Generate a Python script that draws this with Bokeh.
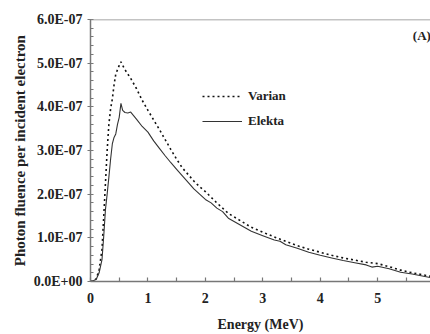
from bokeh.plotting import figure
from bokeh.models import (FixedTicker, Span, Label, Legend, LegendItem, Range1d)
from bokeh.embed import file_html
from bokeh.resources import INLINE

# Energy grid (MeV)
energy_varian = [0, 0.05, 0.1, 0.15, 0.2, 0.23, 0.26, 0.29, 0.32, 0.35, 0.38, 0.41, 0.44, 0.47, 0.5, 0.53,
                 0.56, 0.6, 0.65, 0.7, 0.8, 0.9, 1.0, 1.1, 1.2, 1.3, 1.4, 1.5, 1.6, 1.7, 1.8, 1.9,
                 2.0, 2.2, 2.4, 2.6, 2.8, 3.0, 3.2, 3.4, 3.6, 3.8, 4.0, 4.2, 4.4, 4.6, 4.8, 5.0,
                 5.2, 5.4, 5.6, 5.8, 6.0]
# Photon fluence per incident electron, in units of 1e-7
varian = [0, 0.02, 0.06, 0.27, 0.73, 1.48, 2.24, 3.0, 3.6, 3.95, 4.18, 4.5, 4.75, 4.85, 4.95, 5.03,
          4.95, 4.85, 4.75, 4.65, 4.42, 4.15, 3.92, 3.7, 3.48, 3.25, 3.02, 2.8, 2.6, 2.45, 2.3, 2.17,
          2.06, 1.8, 1.56, 1.4, 1.24, 1.13, 1.02, 0.92, 0.82, 0.74, 0.67, 0.6, 0.54, 0.49, 0.44, 0.41,
          0.34, 0.26, 0.2, 0.15, 0.1]

energy_elekta = [0, 0.05, 0.1, 0.15, 0.2, 0.23, 0.26, 0.29, 0.32, 0.35, 0.38, 0.41, 0.44, 0.47, 0.5,
                 0.53, 0.56, 0.6, 0.65, 0.7, 0.75, 0.8, 0.9, 1.0, 1.1, 1.2, 1.3, 1.4, 1.5, 1.6, 1.7,
                 1.8, 1.9, 2.0, 2.1, 2.2, 2.3, 2.4, 2.6, 2.8, 3.0, 3.2, 3.3, 3.4, 3.6, 3.8, 4.0, 4.2,
                 4.4, 4.6, 4.8, 4.9, 5.0, 5.2, 5.4, 5.6, 5.8, 6.0]
elekta = [0, 0.02, 0.05, 0.2, 0.5, 1.03, 1.64, 2.0, 2.39, 2.8, 3.15, 3.3, 3.38, 3.6, 3.76,
          4.08, 3.92, 3.87, 3.86, 3.88, 3.8, 3.72, 3.55, 3.42, 3.22, 3.05, 2.88, 2.72, 2.57, 2.42, 2.27,
          2.12, 2.0, 1.88, 1.8, 1.68, 1.6, 1.45, 1.3, 1.15, 1.05, 0.95, 0.92, 0.84, 0.76, 0.67, 0.6, 0.54,
          0.48, 0.43, 0.38, 0.33, 0.35, 0.29, 0.21, 0.17, 0.12, 0.07]

y_ticks = [0, 1, 2, 3, 4, 5, 6]
y_tick_labels = ["0.0E+00", "1.0E-07", "2.0E-07", "3.0E-07", "4.0E-07", "5.0E-07", "6.0E-07"]
x_ticks = [0, 1, 2, 3, 4, 5, 6]

FONT = "'Liberation Serif', serif"

p = figure(width=430, height=334, output_backend="svg", toolbar_location=None,
           x_range=Range1d(0, 5.92), y_range=Range1d(0, 6),
           min_border_left=90, min_border_right=0, min_border_top=19, min_border_bottom=52)
p.outline_line_color = None
p.xgrid.visible = False
p.ygrid.visible = False
p.background_fill_color = "white"
p.border_fill_color = "white"

r_var = p.line(energy_varian, varian, line_color="#111111", line_width=1.6, line_dash="2 3")
r_ele = p.line(energy_elekta, elekta, line_color="#333333", line_width=1.1)

# axes
for ax in (p.xaxis[0], p.yaxis[0]):
    ax.axis_line_color = "#777777"
    ax.axis_line_width = 1.5
    ax.major_tick_line_color = "#777777"
    ax.minor_tick_line_color = "#777777"
    ax.major_tick_line_width = 1.2
    ax.minor_tick_line_width = 1.2
    ax.major_label_text_font = FONT
    ax.major_label_text_font_style = "bold"
    ax.major_label_text_font_size = "14px"
    ax.major_label_text_color = "#222222"
    ax.axis_label_text_font = FONT
    ax.axis_label_text_font_style = "bold"
    ax.axis_label_text_color = "#222222"

p.xaxis.ticker = FixedTicker(ticks=x_ticks, minor_ticks=[t + 0.5 for t in x_ticks])
p.xaxis.major_tick_in = 4
p.xaxis.major_tick_out = 0
p.xaxis.minor_tick_in = 4
p.xaxis.minor_tick_out = 0
p.xaxis.major_label_standoff = 11
p.xaxis.axis_label = "Energy (MeV)"
p.xaxis.axis_label_text_font_size = "14px"
p.xaxis.axis_label_standoff = 11

p.yaxis.ticker = FixedTicker(ticks=y_ticks,
                             minor_ticks=[t + k * 0.2 for t in y_ticks[:-1] for k in range(1, 5)])
p.yaxis.major_label_overrides = {t: s for t, s in zip(y_ticks, y_tick_labels)}
p.yaxis.major_tick_in = 3
p.yaxis.major_tick_out = 3
p.yaxis.minor_tick_in = 3
p.yaxis.minor_tick_out = 0
p.yaxis.major_label_standoff = 5
p.yaxis.axis_label = "Photon fluence per incident electron"
p.yaxis.axis_label_text_font_size = "15px"
p.yaxis.axis_label_standoff = 3

# top frame line
p.add_layout(Span(location=6, dimension="width", line_color="#888888", line_width=1.5))

# panel tag
p.add_layout(Label(x=5.77, y=5.64, text="(A)", text_font=FONT, text_font_style="bold",
                   text_font_size="13px", text_align="center", text_baseline="middle",
                   text_color="#222222"))

legend = Legend(items=[LegendItem(label="Varian", renderers=[r_var]),
                       LegendItem(label="Elekta", renderers=[r_ele])],
                location=(112, 150), glyph_width=40, glyph_height=20, label_height=20,
                label_standoff=6, spacing=5, padding=0, margin=0,
                border_line_color=None, background_fill_alpha=0,
                label_text_font=FONT, label_text_font_style="bold",
                label_text_font_size="13px", label_text_color="#222222")
p.add_layout(legend)

open("out.html", "w").write(file_html(p, INLINE))
